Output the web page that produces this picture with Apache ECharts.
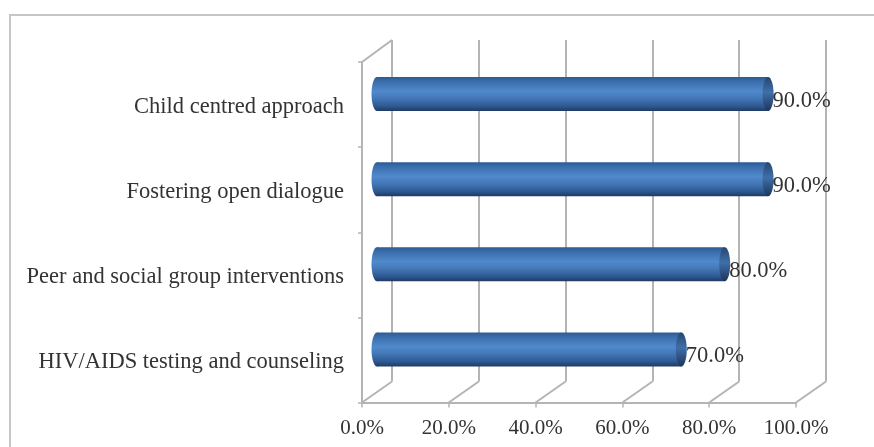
<!DOCTYPE html>
<html><head><meta charset="utf-8">
<style>html,body{margin:0;padding:0;background:#fff}#c{width:874px;height:447px}</style>
<script src="https://cdn.jsdelivr.net/npm/echarts@6/dist/echarts.min.js"></script>
</head><body><div id="c"></div>
<script>
const categories = ['HIV/AIDS testing and counseling','Peer and social group interventions','Fostering open dialogue','Child centred approach'];
const values = [70, 80, 90, 90];
const valueTicks = [0, 20, 40, 60, 80, 100];

const font = '"Liberation Serif", serif';
const wall = '#b4b4b4';
const textColor = '#333333';
const depthX = 30, depthY = 21;
const chart = echarts.init(document.getElementById('c'));
chart.setOption({
  animation: false,
  backgroundColor: '#fff',
  graphic: [{type:'polyline', shape:{points:[[10,447],[10,15],[874,15]]}, style:{fill:'none',stroke:'#c6c6c6',lineWidth:2}, silent:true}],
  grid: [
    {left:362, top:62, width:434, height:340.5},
    {left:392, top:40, width:434, height:341.5}
  ],
  xAxis: [
    {gridIndex:0, type:'value', min:0, max:100, interval:20,
     axisLine:{show:true, lineStyle:{color:wall,width:2}},
     axisTick:{show:true, length:5, lineStyle:{color:wall,width:1.5}},
     splitLine:{show:false},
     axisLabel:{margin:15, fontFamily:font, fontSize:21, color:textColor, formatter:v=>v.toFixed(1)+'%'}},
    {gridIndex:1, type:'value', min:0, max:100, interval:20,
     axisLine:{show:false}, axisTick:{show:false}, axisLabel:{show:false},
     splitLine:{show:true, lineStyle:{color:wall,width:2}}}
  ],
  yAxis: [
    {gridIndex:0, type:'category', data:categories,
     axisLine:{show:true, lineStyle:{color:wall,width:2}},
     axisTick:{show:true, length:4, alignWithLabel:false, lineStyle:{color:wall,width:1.5}},
     axisLabel:{margin:18, fontFamily:font, fontSize:22.5, color:textColor, interval:0, verticalAlign:'top', lineHeight:5}},
    {gridIndex:1, type:'category', data:categories, show:false}
  ],
  series: [
    {type:'custom', xAxisIndex:0, yAxisIndex:0, z:2, silent:true,
     data: valueTicks.map(v=>[v]),
     encode:{x:0},
     renderItem(params, api){
       const cs = params.coordSys;
       const x = api.coord([api.value(0), 0])[0];
       const y = cs.y + cs.height;
       const lines = [{type:'line', shape:{x1:x,y1:y,x2:x+depthX,y2:y-depthY}, style:{stroke:wall,lineWidth:2,fill:null}}];
       if (api.value(0) === 0) lines.push({type:'line', shape:{x1:x,y1:cs.y,x2:x+depthX,y2:cs.y-depthY-1}, style:{stroke:wall,lineWidth:2,fill:null}});
       return {type:'group', children:lines};
     }},
    {type:'custom', xAxisIndex:0, yAxisIndex:0, z:5, silent:true, clip:false,
     data: values.map((v,i)=>[v,i]),
     encode:{x:0,y:1},
     renderItem(params, api){
       const p0 = api.coord([0, api.value(1)]);
       const p1 = api.coord([api.value(0), api.value(1)]);
       const rx = 5.5, h = 34;
       const x0 = p0[0] + 15, x1 = p1[0] + 15.5, cy = p0[1] - 10.5, ry = h/2;
       const bodyFill = new echarts.graphic.LinearGradient(0,0,0,1,[
         {offset:0,color:'#2c5a92'},{offset:0.12,color:'#3a6cab'},{offset:0.42,color:'#508acc'},
         {offset:0.62,color:'#4478b8'},{offset:0.85,color:'#2f5a94'},{offset:1,color:'#1f3a63'}]);
       const capFill = new echarts.graphic.LinearGradient(0,0,0,1,[
         {offset:0,color:'#27466f'},{offset:0.45,color:'#3f6fa9'},{offset:1,color:'#1d3559'}]);
       return {type:'group', children:[
         {type:'ellipse', shape:{cx:x0,cy:cy,rx:rx,ry:ry}, style:{fill:bodyFill}},
         {type:'rect', shape:{x:x0,y:cy-ry,width:x1-x0,height:h}, style:{fill:bodyFill}},
         {type:'ellipse', shape:{cx:x1,cy:cy,rx:rx,ry:ry}, style:{fill:capFill}},
         {type:'text', x:x1+rx-1, y:cy+7, z2:10, style:{text:api.value(0).toFixed(1)+'%', font:'22.5px '+font, fill:textColor, textAlign:'left', textVerticalAlign:'middle'}}
       ]};
     }}
  ]
});
</script></body></html>
